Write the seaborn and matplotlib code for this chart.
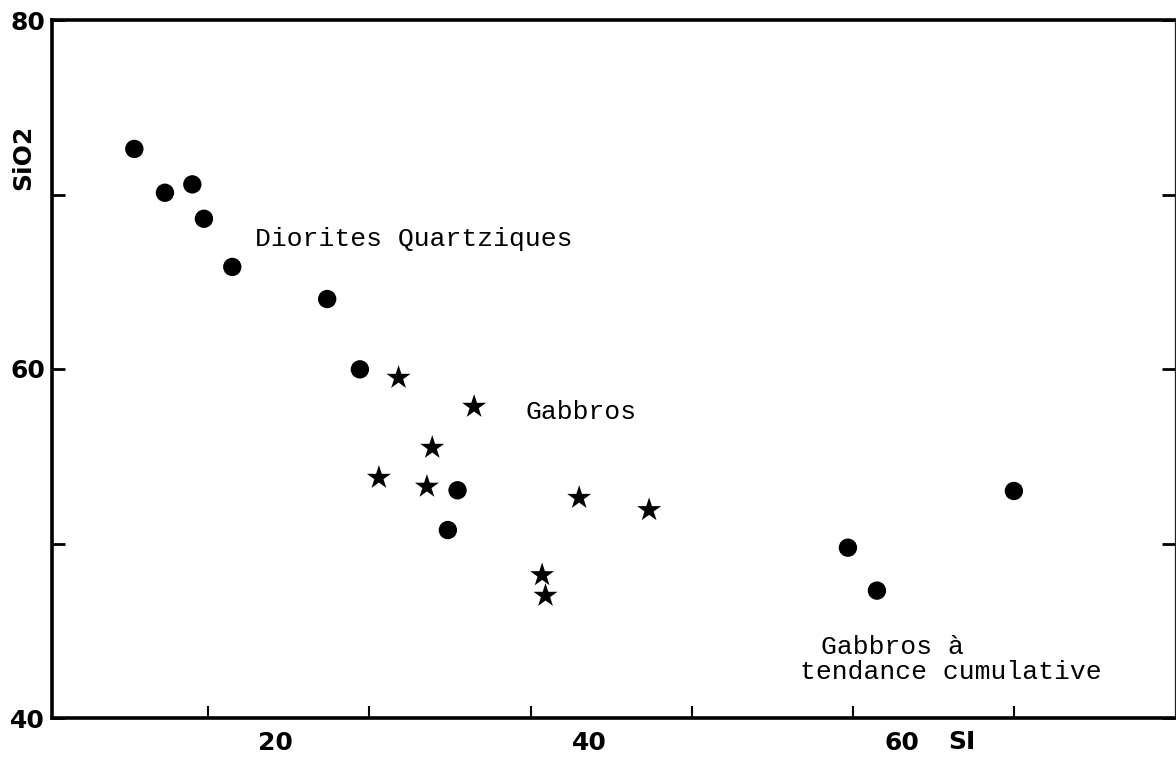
import matplotlib
matplotlib.use("Agg")
import matplotlib.pyplot as plt
import seaborn as sns
import pandas as pd

# SI index and SiO2 (wt %) per sample
si_dots = [5.41, 7.31, 9.01, 9.73, 11.49, 17.38, 19.41, 25.47, 24.87, 49.70, 51.50, 60.00]
sio2_dots = [72.61, 70.10, 70.58, 68.61, 65.85, 64.01, 59.98, 53.05, 50.77, 49.76, 47.30, 53.01]

si_stars = [21.81, 26.50, 23.90, 20.59, 23.57, 33.02, 37.36, 30.72, 30.93]
sio2_stars = [59.50, 57.84, 55.49, 53.77, 53.26, 52.62, 51.92, 48.19, 47.01]

# tick marks along SI, and where the printed scale numbers sit
x_tick_marks = [10, 20, 30, 40, 50, 60]
x_label_pos = [14.14, 33.68, 53.03]
x_labels = ["20", "40", "60"]
y_ticks = [40, 50, 60, 70, 80]
y_tick_labels = ["40", "", "60", "", "80"]

dots = pd.DataFrame({"SI": si_dots, "SiO2": sio2_dots})
stars = pd.DataFrame({"SI": si_stars, "SiO2": sio2_stars})

sns.set_style("ticks")
plt.rcParams["font.family"] = ["DejaVu Sans"]
plt.rcParams.update({"text.color": "black", "axes.labelcolor": "black",
                     "xtick.color": "black", "ytick.color": "black"})

fig = plt.figure(figsize=(11.76, 7.64), dpi=100)
ax = fig.add_axes([52 / 1176, 46 / 764, 1123 / 1176, 698 / 764])

sns.scatterplot(data=dots, x="SI", y="SiO2", ax=ax, marker="o", s=175,
                color="black", edgecolor="none", legend=False)
sns.scatterplot(data=stars, x="SI", y="SiO2", ax=ax, marker="*", s=330,
                color="black", edgecolor="none", legend=False)

ax.set_xlim(0.3, 70)
ax.set_ylim(40, 80)

ax.set_xticks(x_tick_marks, [""] * len(x_tick_marks))
ax.set_xticks(x_label_pos, x_labels, minor=True)
ax.set_yticks(y_ticks, y_tick_labels)

for side in ["left", "bottom", "top"]:
    ax.spines[side].set_visible(True)
    ax.spines[side].set_linewidth(2.6)
    ax.spines[side].set_color("black")
ax.spines["right"].set_visible(True)
ax.spines["right"].set_linewidth(0.9)
ax.spines["right"].set_color("#222222")

ax.tick_params(axis="x", which="major", direction="in", length=9, width=1.5,
               top=False, color="black")
ax.tick_params(axis="x", which="minor", direction="in", length=0, pad=9.5,
               labelsize=18, top=False, labelcolor="black")
ax.tick_params(axis="y", direction="in", length=9.5, width=2.0, pad=5,
               labelsize=18, left=True, right=True, color="black",
               labelcolor="black")
for lab in ax.get_xticklabels(minor=True) + ax.get_yticklabels():
    lab.set_fontweight("bold")

ax.set_xlabel("SI", fontsize=18, fontweight="bold", color="black")
ax.xaxis.set_label_coords((962 - 52) / 1123, -(742 - 718) / 698)
ax.xaxis.label.set_verticalalignment("center")

ax.set_ylabel("SiO2", fontsize=18, fontweight="bold", color="black")
ax.yaxis.set_label_coords((23 - 52) / 1123, (718 - 157) / 698)
ax.yaxis.label.set_verticalalignment("center")
ax.yaxis.label.set_horizontalalignment("center")

mono = dict(family=["Liberation Mono", "DejaVu Sans Mono"], fontsize=19,
            color="black", va="baseline", ha="left")
ax.text(12.90, 67.05, "Diorites Quartziques", **mono)
ax.text(29.71, 57.13, "Gabbros", **mono)
ax.text(48.01, 43.67, "Gabbros à", **mono)
ax.text(46.70, 42.22, "tendance cumulative", **mono)

fig.savefig("out.png", dpi=100, facecolor="white")
